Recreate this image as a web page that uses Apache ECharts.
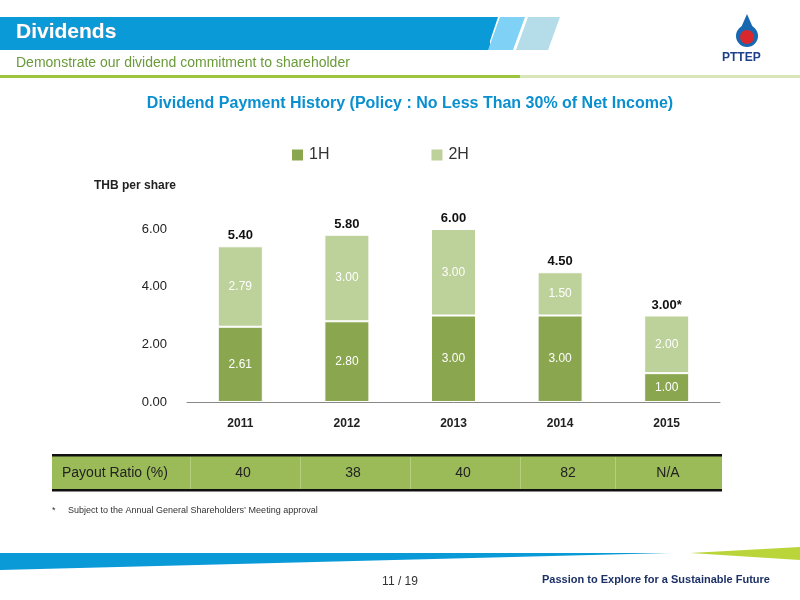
<!DOCTYPE html>
<html><head><meta charset="utf-8">
<script src="https://cdn.jsdelivr.net/npm/echarts@6/dist/echarts.min.js"></script>
<style>html,body{margin:0;padding:0;background:#fff}#c{width:800px;height:600px}</style>
</head><body><div id="c"></div>
<script>
const categories = ['2011','2012','2013','2014','2015'];
const firstHalf = [2.61, 2.80, 3.00, 3.00, 1.00];
const secondHalf = [2.79, 3.00, 3.00, 1.50, 2.00];
const totalLabels = ['5.40','5.80','6.00','4.50','3.00*'];
const payout = ['40','38','40','82','N/A'];
const yTicks = [0, 2, 4, 6];

const chart = echarts.init(document.getElementById('c'));
const F = 'Liberation Sans, Arial, sans-serif';
const totals = firstHalf.map((v,i)=>+(v+secondHalf[i]).toFixed(2));
const g = [];
g.push({type:'rect',shape:{x:0,y:17,width:490,height:33},style:{fill:'#0a9ad8'},z:1});
g.push({type:'polygon',shape:{points:[[485,17],[498,17],[487,50],[474,50]]},style:{fill:'#0a9ad8'},z:1});
g.push({type:'polygon',shape:{points:[[500,17],[525,17],[513,50],[488,50]]},style:{fill:'#7fd2f5'},z:1});
g.push({type:'polygon',shape:{points:[[528,17],[560,17],[548,50],[516,50]]},style:{fill:'#b5dde9'},z:1});
g.push({type:'text',x:16,y:22,z:5,style:{text:'Dividends',fill:'#fff',stroke:'#6b8fb0',lineWidth:0.6,font:'bold 21px '+F}});
g.push({type:'text',x:16,y:56,z:5,style:{text:'Demonstrate our dividend commitment to shareholder',fill:'#6b9a3a',font:'14px '+F}});
g.push({type:'rect',shape:{x:0,y:75,width:520,height:3},style:{fill:'#9cc43d'}});
g.push({type:'rect',shape:{x:520,y:75,width:280,height:3},style:{fill:'#d8e6b8'}});
g.push({type:'circle',shape:{cx:747,cy:36,r:11},style:{fill:'#1a67b1'}});
g.push({type:'polygon',shape:{points:[[747,14],[740,30],[754,30]]},style:{fill:'#1a67b1'}});
g.push({type:'circle',shape:{cx:747,cy:37,r:7},style:{fill:'#d9272e'}});
g.push({type:'text',x:722,y:52,style:{text:'PTTEP',fill:'#1d3f8c',font:'bold 12px '+F}});
g.push({type:'text',x:410,y:96,style:{text:'Dividend Payment History (Policy : No Less Than 30% of Net Income)',fill:'#0a8fd0',font:'bold 16px '+F,textAlign:'center'}});
g.push({type:'text',x:94,y:180,style:{text:'THB per share',fill:'#222',font:'bold 12px '+F}});
g.push({type:'rect',shape:{x:52,y:456,width:670,height:34},style:{fill:'#9bbb59'}});
g.push({type:'rect',shape:{x:52,y:454,width:670,height:2.5},style:{fill:'#111'}});
g.push({type:'rect',shape:{x:52,y:489,width:670,height:2.5},style:{fill:'#111'}});
[190,300,410,520,615].forEach(x=>g.push({type:'rect',shape:{x:x,y:457,width:1,height:32},style:{fill:'#b5cf7e'}}));
g.push({type:'text',x:62,y:473,style:{text:'Payout Ratio (%)',fill:'#222',font:'14px '+F,textVerticalAlign:'middle'}});
const cx=[243,353,463,568,668];
payout.forEach((p,i)=>g.push({type:'text',x:cx[i],y:473,style:{text:p,fill:'#222',font:'14px '+F,textAlign:'center',textVerticalAlign:'middle'}}));
g.push({type:'text',x:52,y:506,style:{text:'*     Subject to the Annual General Shareholders\u2019 Meeting approval',fill:'#333',font:'9px '+F}});
g.push({type:'polygon',shape:{points:[[0,553],[670,553],[0,570]]},style:{fill:'#0a9ad8'}});
g.push({type:'polygon',shape:{points:[[690,553],[800,547],[800,560]]},style:{fill:'#b9d53a'}});
g.push({type:'text',x:400,y:582,style:{text:'11 / 19',fill:'#333',font:'12px '+F,textAlign:'center',textVerticalAlign:'middle'}});
g.push({type:'text',x:542,y:580,style:{text:'Passion to Explore for a Sustainable Future',fill:'#1d3166',font:'bold 11px '+F,textVerticalAlign:'middle'}});

chart.setOption({
  animation:false,
  textStyle:{fontFamily:F},
  legend:{top:142,left:285,itemGap:100,itemWidth:13,itemHeight:13,icon:'rect',textStyle:{fontSize:16,color:'#333'},data:['1H','2H']},
  grid:{left:187,right:80,top:229,bottom:198},
  xAxis:{type:'category',data:categories,axisLine:{lineStyle:{color:'#888'}},axisTick:{show:false},axisLabel:{color:'#222',fontWeight:'bold',fontSize:12,margin:16}},
  yAxis:{type:'value',min:0,max:6,interval:2,splitLine:{show:false},axisLine:{show:false},axisTick:{show:false},
    axisLabel:{color:'#222',fontSize:13,margin:20,formatter:v=>yTicks.includes(v)?v.toFixed(2):''}},
  series:[
    {name:'1H',type:'bar',stack:'a',barWidth:45,data:firstHalf,itemStyle:{color:'#8aa64f',borderColor:'#fff',borderWidth:1},
     label:{show:true,position:'inside',color:'#fff',fontSize:12,formatter:p=>p.value.toFixed(2)}},
    {name:'2H',type:'bar',stack:'a',data:secondHalf,itemStyle:{color:'#bdd19a',borderColor:'#fff',borderWidth:1},
     label:{show:true,position:'inside',fontSize:12,formatter:p=>p.value.toFixed(2),color:'#fff'}},
    {name:'total',type:'bar',stack:'a',data:totals.map(()=>0.001),itemStyle:{color:'transparent'},
     label:{show:true,position:'top',distance:4,color:'#111',fontWeight:'bold',fontSize:13,formatter:p=>totalLabels[p.dataIndex]}}
  ],
  graphic:g
});
</script></body></html>
